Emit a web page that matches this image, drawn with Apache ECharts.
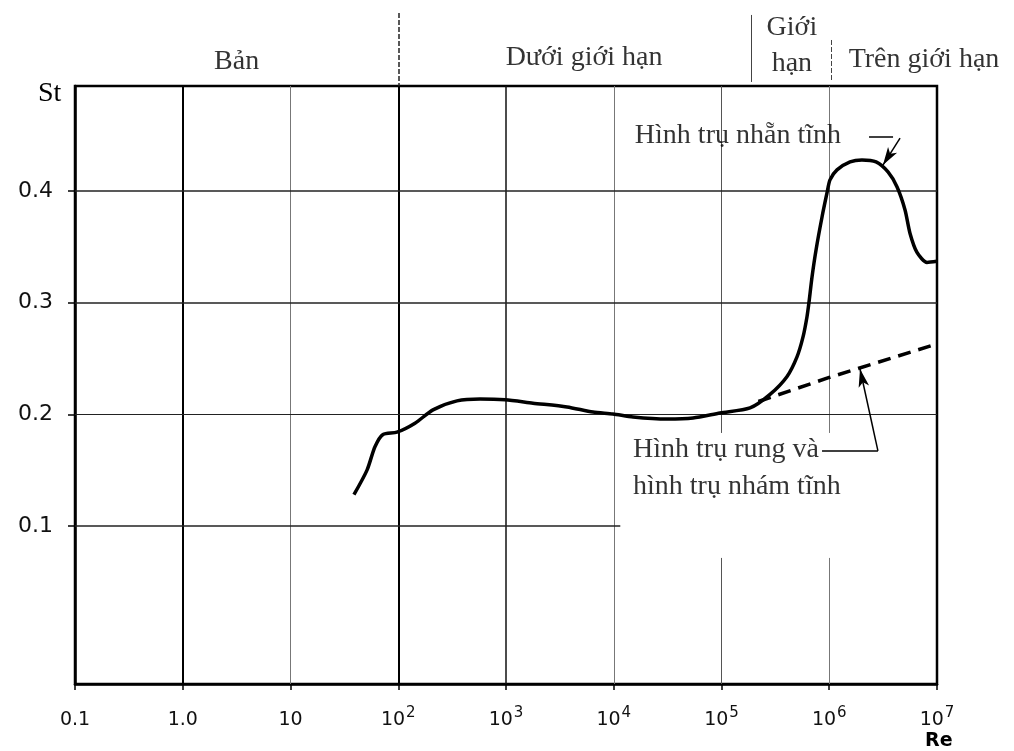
<!DOCTYPE html>
<html><head><meta charset="utf-8">
<script src="https://cdn.jsdelivr.net/npm/echarts@6/dist/echarts.min.js"></script>
<style>html,body{margin:0;padding:0;background:#fff}#c{width:1014px;height:751px}</style>
</head><body><div id="c"></div>
<script>
// ---- data ----
const xTickLabels = ['0.1', '1.0', '10', '10^2', '10^3', '10^4', '10^5', '10^6', '10^7'];
const yTickValues = [0.1, 0.2, 0.3, 0.4];
const yTickLabels = ['0.1', '0.2', '0.3', '0.4'];

// smooth stationary cylinder (solid)
const smoothRe = [38.8, 51.3, 60.8, 72.2, 97.3, 143, 210, 351, 574, 980, 1778, 3680, 6410, 9840, 15100, 31200, 54400, 96800,
  1.84e5, 2.82e5, 4.06e5, 5.02e5, 5.71e5, 6.21e5, 6.49e5, 6.92e5, 7.54e5, 8.57e5, 9.53e5, 1.016e6, 1.18e6, 1.56e6,
  2.01e6, 2.72e6, 3.51e6, 4.26e6, 5.05e6, 5.62e6, 6.52e6, 8.07e6, 1e7];
const smoothSt = [0.128, 0.150, 0.171, 0.182, 0.184, 0.192, 0.204, 0.212, 0.2137, 0.213, 0.210, 0.2066, 0.202, 0.2003, 0.1976, 0.1958, 0.1967, 0.2012,
  0.2057, 0.2178, 0.2339, 0.2514, 0.2693, 0.2872, 0.3006, 0.323, 0.3472, 0.3767, 0.3982, 0.4099, 0.4189, 0.4260,
  0.4278, 0.426, 0.417, 0.4035, 0.383, 0.362, 0.345, 0.336, 0.337];

// vibrating / rough stationary cylinder (dashed)
const roughRe = [2.2e5, 1e6, 1e7];
const roughSt = [0.2115, 0.233, 0.263];

// flow regimes
const regimeNames = ['Bản', 'Dưới giới hạn', 'Giới\nhạn', 'Trên giới hạn'];
const regimeCenterRe = [3.16, 5.3e3, 4.5e5, 7.57e6];
const regimeBoundaryRe = [100, 1.9e5, 1.05e6];

// annotations
const noteTexts = ['Hình trụ nhẵn tĩnh', 'Hình trụ rung và\nhình trụ nhám tĩnh'];
const noteAnchors = [[1.57e4, 0.4493], [1.51e4, 0.1515]];
const leaderPlain = [[[2.34e6, 0.4484], [3.91e6, 0.4484]], [[8.57e5, 0.1672], [2.83e6, 0.1672]]];
const leaderArrow = [[[4.54e6, 0.4474], [3.15e6, 0.4232]], [[2.83e6, 0.1672], [1.93e6, 0.2406]]];

// ---- styles ----
const SERIF = '"Liberation Serif","DejaVu Serif",serif';
const SANS = '"DejaVu Sans","Noto Sans",sans-serif';
const yMin = -0.0415, yMax = 0.494;
const decadeStyle = {1: [2, '#000'], 10: [1, '#777'], 100: [2, '#000'], 1000: [1.5, '#111'], 10000: [1, '#777'], 100000: [1, '#555'], 1000000: [1, '#777']};
const gapDecades = [1e5, 1e6];
const textGap = [0.0714, 0.1833];

const gridLines = [];
Object.keys(decadeStyle).forEach(k => {
  const re = Number(k), st = {width: decadeStyle[k][0], color: decadeStyle[k][1], type: 'solid'};
  if (gapDecades.includes(re)) {
    gridLines.push([{coord: [re, yMax], lineStyle: st}, {coord: [re, textGap[1]]}]);
    gridLines.push([{coord: [re, textGap[0]], lineStyle: st}, {coord: [re, yMin]}]);
  } else {
    gridLines.push({xAxis: re, lineStyle: st});
  }
});
yTickValues.forEach(v => {
  const st = {width: v === 0.2 ? 1.2 : 1.5, color: '#222', type: 'solid'};
  if (v === 0.1) gridLines.push([{coord: [0.1, v], lineStyle: st}, {coord: [1.15e4, v]}]);
  else gridLines.push({yAxis: v, lineStyle: st});
});

const leaders = [];
leaderPlain.forEach(p => leaders.push([{coord: p[0]}, {coord: p[1]}]));
leaderArrow.forEach(p => leaders.push([{coord: p[0]}, {coord: p[1], symbol: 'arrow', symbolSize: [8, 18]}]));

const regimeY = [0.279, 0.326, 0.465, 0.302];
const bandSep = [
  [{coord: [regimeBoundaryRe[0], 0.849], lineStyle: {type: [5, 2], width: 1.5, color: '#222'}}, {coord: [regimeBoundaryRe[0], 0]}],
  [{coord: [regimeBoundaryRe[1], 0.826], lineStyle: {type: 'solid', width: 1, color: '#444'}}, {coord: [regimeBoundaryRe[1], 0.047]}],
  [{coord: [regimeBoundaryRe[2], 0.535], lineStyle: {type: [5, 2], width: 1, color: '#444'}}, {coord: [regimeBoundaryRe[2], 0.047]}]
];

function xLabel(v) {
  const s = xTickLabels[Math.round(Math.log10(v)) + 1];
  if (!s) return '';
  if (s.indexOf('^') >= 0) { const p = s.split('^'); return '{b|' + p[0] + '}{s|' + p[1] + '}'; }
  return '{b|' + s + '}';
}

const chart = echarts.init(document.getElementById('c'));
chart.setOption({
  animation: false,
  backgroundColor: '#fff',
  grid: [
    {left: 75, right: 77, top: 86, bottom: 67, show: true, borderColor: '#000', borderWidth: 2.5, backgroundColor: 'transparent'},
    {left: 75, right: 77, top: 0, height: 86}
  ],
  xAxis: [
    {type: 'log', logBase: 10, min: 0.1, max: 1e7, gridIndex: 0,
      axisLine: {show: true, onZero: false, lineStyle: {color: '#000', width: 2.5}},
      axisTick: {show: true, inside: false, length: 6, lineStyle: {color: '#000', width: 1.5}},
      minorTick: {show: false}, splitLine: {show: false},
      axisLabel: {margin: 20, formatter: xLabel, color: '#111',
        rich: {
          b: {fontSize: 19, fontFamily: SANS, color: '#111', verticalAlign: 'bottom', lineHeight: 26},
          s: {fontSize: 15, fontFamily: SANS, color: '#111', verticalAlign: 'bottom', lineHeight: 26, padding: [0, 0, 9, 1]}
        }}},
    {type: 'log', logBase: 10, min: 0.1, max: 1e7, gridIndex: 1, show: false}
  ],
  yAxis: [
    {type: 'value', min: yMin, max: yMax, gridIndex: 0,
      axisLine: {show: true, onZero: false, lineStyle: {color: '#000', width: 2.5}},
      axisTick: {show: true, inside: false, length: 7, customValues: yTickValues, lineStyle: {color: '#000', width: 1.5}},
      axisLabel: {customValues: yTickValues, margin: 22, fontSize: 22, fontFamily: SANS, color: '#111',
        formatter: v => { const i = yTickValues.findIndex(t => Math.abs(t - v) < 1e-6); return i >= 0 ? yTickLabels[i] : ''; }},
      splitLine: {show: false}},
    {type: 'value', min: 0, max: 1, gridIndex: 1, show: false}
  ],
  graphic: [
    {type: 'text', left: 38, top: 80, style: {text: 'St', font: '28px ' + SERIF, fill: '#000'}},
    {type: 'text', left: 925, top: 732, style: {text: 'Re', font: 'bold 19px ' + SANS, fill: '#000'}}
  ],
  series: [
    {type: 'line', xAxisIndex: 0, yAxisIndex: 0, data: [], z: 1, silent: true,
      markLine: {silent: true, symbol: ['none', 'none'], label: {show: false}, data: gridLines}},
    {type: 'line', name: 'smooth', xAxisIndex: 0, yAxisIndex: 0, z: 5, symbol: 'none', smooth: 0.25,
      lineStyle: {color: '#000', width: 3.5},
      data: smoothRe.map((r, i) => [r, smoothSt[i]])},
    {type: 'line', name: 'rough', xAxisIndex: 0, yAxisIndex: 0, z: 5, symbol: 'none',
      lineStyle: {color: '#000', width: 3.5, type: [13, 8]},
      data: roughRe.map((r, i) => [r, roughSt[i]])},
    {type: 'scatter', xAxisIndex: 0, yAxisIndex: 0, z: 6, symbolSize: 0, silent: true,
      data: noteAnchors.map((a, i) => ({value: a, name: noteTexts[i]})),
      label: {show: true, position: 'right', distance: 0, formatter: p => p.name,
        fontFamily: SERIF, fontSize: 28, color: '#000', lineHeight: 37},
      markLine: {silent: true, symbol: ['none', 'none'], label: {show: false},
        lineStyle: {color: '#000', width: 1.5, type: 'solid'}, data: leaders}},
    {type: 'scatter', xAxisIndex: 1, yAxisIndex: 1, symbolSize: 0, silent: true,
      data: regimeNames.map((n, i) => ({value: [regimeCenterRe[i], regimeY[i]], name: n})),
      label: {show: true, position: 'inside', align: 'center', verticalAlign: 'middle', formatter: p => p.name,
        fontFamily: SERIF, fontSize: 28, color: '#000', lineHeight: 36},
      markLine: {silent: true, symbol: ['none', 'none'], label: {show: false}, data: bandSep}}
  ]
});
</script></body></html>
